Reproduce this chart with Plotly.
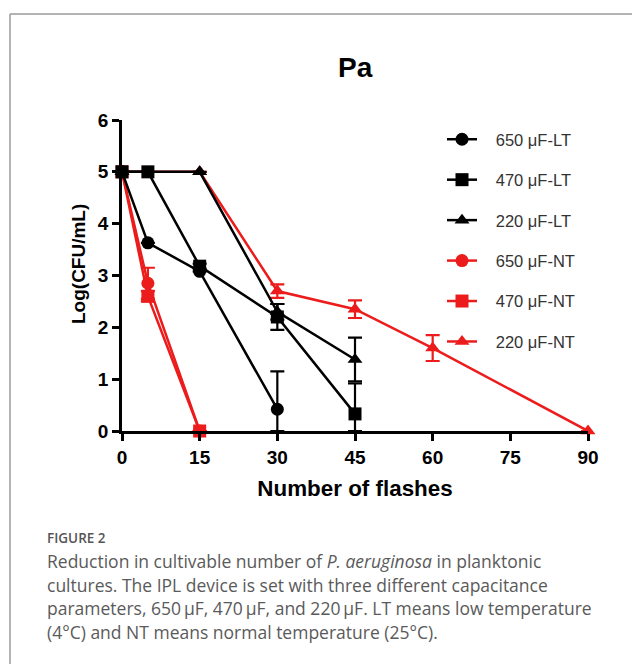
import plotly.graph_objects as go

# ---- data ----
names = ["650 μF-LT", "470 μF-LT", "220 μF-LT", "650 μF-NT", "470 μF-NT", "220 μF-NT"]
x_650_LT = [0, 5, 15, 30]
y_650_LT = [5, 3.63, 3.08, 0.42]
e_650_LT = [0, 0, 0, 0.73]

x_470_LT = [0, 5, 15, 30, 45]
y_470_LT = [5, 5, 3.18, 2.2, 0.33]
e_470_LT = [0, 0, 0.05, 0.25, 0.59]

x_220_LT = [0, 15, 30, 45]
y_220_LT = [5, 5, 2.3, 1.38]
e_220_LT = [0, 0, 0.15, 0.42]

x_650_NT = [0, 5, 15]
y_650_NT = [5, 2.85, 0]
e_650_NT = [0, 0.3, 0]

x_470_NT = [0, 5, 15]
y_470_NT = [5, 2.6, 0]
e_470_NT = [0, 0.1, 0]

x_220_NT = [0, 15, 30, 45, 60, 90]
y_220_NT = [5, 5, 2.7, 2.35, 1.6, 0]
e_220_NT = [0, 0, 0.13, 0.17, 0.25, 0]

x_ticks = [0, 15, 30, 45, 60, 75, 90]
y_ticks = [0, 1, 2, 3, 4, 5, 6]

caption_lines = [
    "Reduction in cultivable number of <i>P. aeruginosa</i> in planktonic",
    "cultures. The IPL device is set with three different capacitance",
    "parameters, 650\u2009μF, 470\u2009μF, and 220\u2009μF. LT means low temperature",
    "(4°C) and NT means normal temperature (25°C).",
]

BLACK = "#000000"
RED = "#ec1c1c"

series = [
    (x_650_LT, y_650_LT, e_650_LT, BLACK, "circle"),
    (x_470_LT, y_470_LT, e_470_LT, BLACK, "square"),
    (x_220_LT, y_220_LT, e_220_LT, BLACK, "triangle-up"),
    (x_650_NT, y_650_NT, e_650_NT, RED, "circle"),
    (x_470_NT, y_470_NT, e_470_NT, RED, "square"),
    (x_220_NT, y_220_NT, e_220_NT, RED, "triangle-up"),
]

OFF = 8  # page body margin
W, H = 640, 664
L, R, T, B = 114, 60, 112, 241
PW, PH = W - L - R, H - T - B


def px(x):  # page pixel -> paper x
    return (x - OFF - L) / PW


def py(y):  # page pixel -> paper y
    return (H - B - (y - OFF)) / PH


SANS = "Liberation Sans, Arial, sans-serif"
CAP = "Open Sans, sans-serif"

fig = go.Figure()
order = [3, 4, 5, 0, 1, 2]
for i in order:
    xs, ys, es, col, sym = series[i]
    minus = [min(e, y) for e, y in zip(es, ys)]
    fig.add_trace(go.Scatter(
        x=xs, y=ys, name="\u00a0\u00a0\u00a0" + names[i], mode="lines+markers",
        line=dict(color=col, width=2.5),
        marker=dict(color=col, symbol=sym, size=13),
        error_y=dict(type="data", symmetric=False, array=es, arrayminus=minus,
                     color=col, thickness=2.2, width=7),
        cliponaxis=False,
        legendgroup=names[i],
        legendrank=i,
    ))

annotations = [
    dict(text="<b>Pa</b>", x=px(355), y=py(68), xref="paper", yref="paper",
         xanchor="center", yanchor="middle",
         showarrow=False, font=dict(size=28, color="#000", family=SANS)),
    dict(text="<b>Log(CFU/mL)</b>", x=px(78), y=py(264), xref="paper", yref="paper",
         xanchor="center", yanchor="middle", textangle=-90,
         showarrow=False, font=dict(size=19, color="#000", family=SANS)),
    dict(text="FIGURE 2", x=px(45), y=py(538), xref="paper", yref="paper",
         xanchor="left", yanchor="middle", showarrow=False,
         font=dict(size=13.5, color="#555", family=CAP, weight=600)),
]
cap_y = [561, 585, 608, 632]
for t, yy in zip(caption_lines, cap_y):
    annotations.append(dict(
        text=t, x=px(45), y=py(yy), xref="paper", yref="paper",
        xanchor="left", yanchor="middle", align="left", showarrow=False,
        font=dict(size=17.5, color="#5a5a5a", family=CAP)))

fig.update_layout(
    width=W, height=H,
    margin=dict(l=L, r=R, t=T, b=B, autoexpand=False),
    paper_bgcolor="white", plot_bgcolor="white",
    font=dict(family=SANS, color="#000"),
    showlegend=True,
    legend=dict(
        x=px(442), y=py(122), xanchor="left", yanchor="top",
        font=dict(size=16.5, color="#333", family=SANS),
        traceorder="grouped", tracegroupgap=16,
        bgcolor="rgba(0,0,0,0)", itemwidth=30,
    ),
    xaxis=dict(
        range=[0, 90], tickvals=x_ticks, ticktext=[str(v) for v in x_ticks],
        showgrid=False, zeroline=False, showline=True, linecolor="#000", linewidth=2.5,
        ticks="outside", ticklen=7, tickwidth=2.5, tickcolor="#000",
        tickfont=dict(size=19, family=SANS, weight="bold"),
        title=dict(text="<b>Number of flashes</b>", font=dict(size=22.4, family=SANS),
                   standoff=14),
    ),
    yaxis=dict(
        range=[0, 6], tickvals=y_ticks,
        showgrid=False, zeroline=False, showline=True, linecolor="#000", linewidth=2.5,
        ticks="outside", ticklen=7, tickwidth=2.5, tickcolor="#000",
        tickfont=dict(size=19, family=SANS, weight="bold"),
    ),
    annotations=annotations,
    shapes=[
        dict(type="line", xref="paper", yref="paper", x0=px(10), x1=px(10),
             y0=py(14), y1=py(672), line=dict(color="#9a9a9a", width=1.5)),
        dict(type="line", xref="paper", yref="paper", x0=px(10), x1=px(648),
             y0=py(14), y1=py(14), line=dict(color="#9a9a9a", width=1.5)),
    ],
)

fig.write_html("out.html")
